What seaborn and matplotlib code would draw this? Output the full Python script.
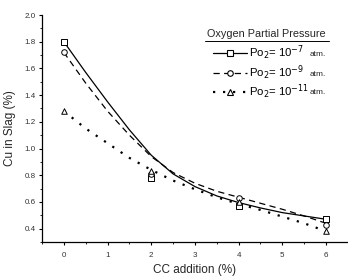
#!/usr/bin/env python3
"""Cu in slag versus CC addition for three oxygen partial pressures."""

import matplotlib.pyplot as plt
import numpy as np
import pandas as pd
import seaborn as sns
from matplotlib.lines import Line2D
from matplotlib.ticker import MultipleLocator

# measured points
CC_POINTS = [0, 2, 4, 6]
CU_PO2_7 = [1.80, 0.78, 0.57, 0.47]
CU_PO2_9 = [1.72, 0.81, 0.63, 0.43]
CU_PO2_11 = [1.28, 0.83, 0.60, 0.38]

# fitted curves
CC_CURVE = [0, 0.5, 1, 1.5, 2, 2.5, 3, 3.5, 4, 4.5, 5, 5.5, 6]
FIT_PO2_7 = [1.80, 1.57, 1.35, 1.14, 0.95, 0.81, 0.715, 0.645, 0.595, 0.555, 0.52, 0.495, 0.47]
FIT_PO2_9 = [1.72, 1.49, 1.28, 1.10, 0.94, 0.82, 0.74, 0.68, 0.635, 0.59, 0.545, 0.495, 0.44]
FIT_PO2_11 = [1.28, 1.15, 1.04, 0.93, 0.84, 0.76, 0.695, 0.635, 0.585, 0.54, 0.49, 0.44, 0.38]

LABELS = ["Po$_2$= 10$^{-7}$", "Po$_2$= 10$^{-9}$", "Po$_2$= 10$^{-11}$"]

STYLES = [
    {"marker": "s", "ls": "-", "lw": 0.9},
    {"marker": "o", "ls": (0, (5, 3.5)), "lw": 0.9},
    {"marker": "^", "ls": (0, (1, 3.5)), "lw": 1.6},
]

NARROW = ["Liberation Sans Narrow", "Liberation Sans", "DejaVu Sans"]


def main() -> None:
    sns.set_theme(style="ticks")
    plt.rcParams.update({
        "font.family": ["Liberation Sans", "DejaVu Sans"],
        "mathtext.fontset": "custom",
        "mathtext.rm": "Liberation Sans Narrow",
        "mathtext.it": "Liberation Sans Narrow:italic",
        "mathtext.bf": "Liberation Sans Narrow:bold",
    })

    points = pd.DataFrame({
        "cc": CC_POINTS * 3,
        "cu": CU_PO2_7 + CU_PO2_9 + CU_PO2_11,
        "series": np.repeat(LABELS, len(CC_POINTS)),
    })
    curves = pd.DataFrame({
        "cc": CC_CURVE * 3,
        "cu": FIT_PO2_7 + FIT_PO2_9 + FIT_PO2_11,
        "series": np.repeat(LABELS, len(CC_CURVE)),
    })

    fig = plt.figure(figsize=(3.48, 2.77), dpi=100)
    ax = fig.add_axes([0.1207, 0.1264, 0.879, 0.8194])

    handles = []
    for label, style in zip(LABELS, STYLES):
        sub = curves[curves["series"] == label]
        sns.lineplot(data=sub, x="cc", y="cu", color="black", linewidth=style["lw"],
                     linestyle=style["ls"], ax=ax, legend=False, zorder=2)
        pts = points[points["series"] == label]
        sns.scatterplot(data=pts, x="cc", y="cu", marker=style["marker"], s=16,
                        color="white", edgecolor="black", linewidth=0.7, ax=ax,
                        legend=False, zorder=3)
        handles.append(Line2D([], [], color="black", linewidth=style["lw"], linestyle=style["ls"],
                              marker=style["marker"], markersize=4, markerfacecolor="white",
                              markeredgecolor="black", markeredgewidth=0.8))

    ax.set_xlim(-0.5, 6.5)
    ax.set_ylim(0.3, 2.0)
    ax.xaxis.set_major_locator(MultipleLocator(1))
    ax.xaxis.set_minor_locator(MultipleLocator(0.5))
    ax.yaxis.set_minor_locator(MultipleLocator(0.1))
    ax.set_yticks(np.arange(0.4, 2.01, 0.2))
    ax.set_yticklabels([f"{v:.1f}" for v in np.arange(0.4, 2.01, 0.2)])
    ax.tick_params(which="major", length=2.5, width=0.8, labelsize=5.8, labelcolor="#333333", color="black")
    ax.tick_params(which="minor", length=1.5, width=0.6, color="black")
    ax.tick_params(axis="x", pad=4.5)
    ax.tick_params(axis="y", pad=2)
    for side in ["left", "bottom"]:
        ax.spines[side].set_linewidth(0.9)
        ax.spines[side].set_color("black")
    sns.despine(ax=ax)

    ax.set_xlabel("CC addition (%)", fontsize=8.5, labelpad=4)
    ax.set_ylabel("Cu in Slag (%)", fontsize=8.5, labelpad=6)

    leg = ax.legend(handles, LABELS, loc="upper left", bbox_to_anchor=(213 / 348, 1 - 44 / 277),
                    bbox_transform=fig.transFigure, frameon=False,
                    prop={"family": NARROW, "size": 8.2},
                    handlelength=3.0, handletextpad=0.15, labelspacing=0.08,
                    borderpad=0, borderaxespad=0)
    for text in leg.get_texts():
        text.set_color("black")

    fig.text(266 / 348, 1 - 34 / 277, "Oxygen Partial Pressure", ha="center", va="center", fontsize=7.8)
    fig.add_artist(Line2D([205 / 348, 329 / 348], [1 - 40.5 / 277] * 2, transform=fig.transFigure,
                          color="black", linewidth=0.7))
    for y_px in [55, 74, 93]:
        fig.text(318 / 348, 1 - y_px / 277, "atm.", ha="center", va="center", fontsize=6)

    fig.savefig("out.png", dpi=100, facecolor="white")
    plt.close(fig)


if __name__ == "__main__":
    main()
